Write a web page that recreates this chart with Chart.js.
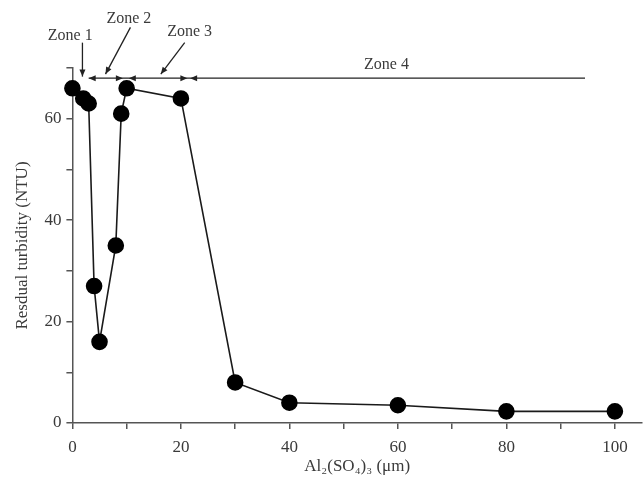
<!DOCTYPE html>
<html lang="en">
<head>
    <meta charset="UTF-8">
    <title>Residual turbidity vs Al2(SO4)3</title>
    <script src="https://cdn.jsdelivr.net/npm/chart.js"></script>
    <style>
        html, body { margin: 0; padding: 0; background: #fff; }
        #wrap { width: 644px; height: 483px; }
    </style>
</head>
<body>
    <div id="wrap"><canvas id="turbidityChart"></canvas></div>

    <script>
// dose of Al2(SO4)3 and measured residual turbidity
const doses = [0, 2, 3, 4, 5, 8, 9, 10, 20, 30, 40, 60, 80, 100];
const turbidity = [66, 64, 63, 27, 16, 35, 61, 66, 64, 8, 4, 3.5, 2.3, 2.3];

const xTickLabels = [0, 20, 40, 60, 80, 100];
const yTickLabels = [0, 20, 40, 60];

const zoneNames = ["Zone 1", "Zone 2", "Zone 3", "Zone 4"];

const serif = "'Liberation Serif', 'DejaVu Serif', serif";
const ink = "#3a3a3a";

// zone markers drawn above the curve, placed in data units
const zonePlugin = {
  id: "zones",
  afterDatasetsDraw(chart) {
    const ctx = chart.ctx;
    const xs = chart.scales.x, ys = chart.scales.y;
    const px = v => xs.getPixelForValue(v);
    const py = v => ys.getPixelForValue(v);
    const lineY = py(68);

    function head(x, y, dir) {
      // small filled triangle pointing left (-1) or right (+1)
      ctx.beginPath();
      ctx.moveTo(x, y);
      ctx.lineTo(x - dir * 7, y - 3);
      ctx.lineTo(x - dir * 7, y + 3);
      ctx.closePath();
      ctx.fill();
    }
    function arrow(x1, y1, x2, y2) {
      ctx.beginPath();
      ctx.moveTo(x1, y1);
      ctx.lineTo(x2, y2);
      ctx.stroke();
      const a = Math.atan2(y2 - y1, x2 - x1);
      ctx.beginPath();
      ctx.moveTo(x2, y2);
      ctx.lineTo(x2 - 7 * Math.cos(a) + 3 * Math.sin(a), y2 - 7 * Math.sin(a) - 3 * Math.cos(a));
      ctx.lineTo(x2 - 7 * Math.cos(a) - 3 * Math.sin(a), y2 - 7 * Math.sin(a) + 3 * Math.cos(a));
      ctx.closePath();
      ctx.fill();
    }

    ctx.save();
    ctx.strokeStyle = "#222";
    ctx.fillStyle = "#222";
    ctx.lineWidth = 1.3;

    // long horizontal line
    ctx.beginPath();
    ctx.moveTo(px(3), lineY);
    ctx.lineTo(px(94.5), lineY);
    ctx.stroke();

    head(px(3), lineY, -1);
    head(px(9.3), lineY, 1);
    head(px(10.4), lineY, -1);
    head(px(21.2), lineY, 1);
    head(px(21.7), lineY, -1);

    // pointers from the labels
    arrow(px(1.85), py(75), px(1.85), py(68.3));
    arrow(px(10.7), py(78), px(6.1), py(68.8));
    arrow(px(20.7), py(75), px(16.3), py(68.8));

    ctx.fillStyle = ink;
    ctx.font = "16px " + serif;
    ctx.textAlign = "center";
    ctx.textBaseline = "middle";
    ctx.fillText(zoneNames[0], px(-0.4), py(76.3));
    ctx.fillText(zoneNames[1], px(10.4), py(79.8));
    ctx.fillText(zoneNames[2], px(21.6), py(77.1));
    ctx.fillText(zoneNames[3], px(57.9), py(70.6));
    ctx.restore();
  }
};

const ctx = document.getElementById("turbidityChart").getContext("2d");

new Chart(ctx, {
  type: "scatter",
  data: {
    datasets: [{
      data: doses.map((d, i) => ({ x: d, y: turbidity[i] })),
      showLine: true,
      borderColor: "#1a1a1a",
      borderWidth: 1.6,
      backgroundColor: "#000",
      pointBackgroundColor: "#000",
      pointBorderColor: "#000",
      pointRadius: 7.5,
      pointHoverRadius: 7.5,
      clip: false
    }]
  },
  options: {
    responsive: true,
    maintainAspectRatio: false,
    animation: false,
    layout: { autoPadding: false, padding: { top: 68, right: 2, left: 12, bottom: 6 } },
    plugins: {
      legend: { display: false },
      tooltip: { enabled: false }
    },
    scales: {
      x: {
        type: "linear",
        min: 0,
        max: 105,
        ticks: {
          stepSize: 10,
          includeBounds: false,
          color: ink,
          font: { family: serif, size: 17, lineHeight: 1 },
          padding: 10,
          maxRotation: 0,
          callback: v => xTickLabels.includes(v) ? String(v) : ""
        },
        grid: {
          drawOnChartArea: false,
          drawTicks: true,
          tickLength: 6,
          color: "#555",
          lineWidth: 1.5
        },
        border: { display: true, color: "#555", width: 1.5 },
        title: {
          display: true,
          text: "Al\u2082(SO\u2084)\u2083 (\u03bcm)",
          color: ink,
          font: { family: serif, size: 17, lineHeight: 1 },
          padding: { top: -8, bottom: 2 }
        }
      },
      y: {
        type: "linear",
        min: 0,
        max: 70,
        ticks: {
          stepSize: 10,
          color: ink,
          font: { family: serif, size: 17 },
          padding: 5,
          callback: v => yTickLabels.includes(v) ? String(v) : ""
        },
        grid: {
          drawOnChartArea: false,
          drawTicks: true,
          tickLength: 6,
          color: "#555",
          lineWidth: 1.5
        },
        border: { display: true, color: "#555", width: 1.5 },
        title: {
          display: true,
          text: "Resdual turbidity (NTU)",
          color: ink,
          font: { family: serif, size: 17 },
          padding: { top: 0, bottom: 7 }
        }
      }
    }
  },
  plugins: [zonePlugin]
});
    </script>
</body>
</html>
